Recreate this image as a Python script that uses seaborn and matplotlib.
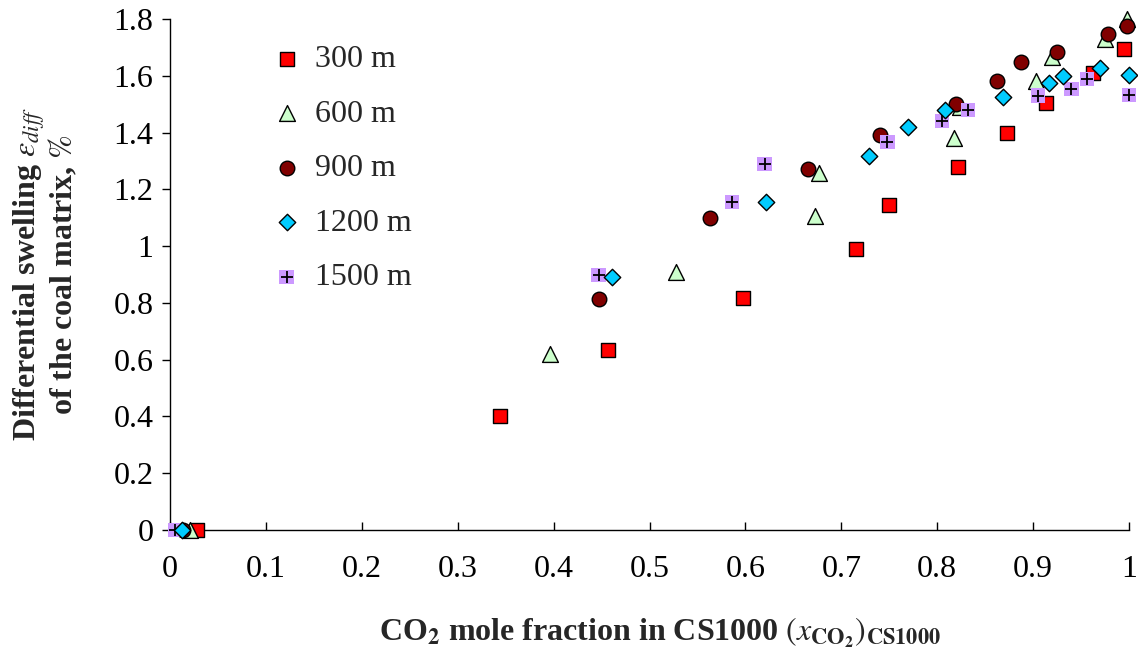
import matplotlib
matplotlib.use("Agg")
import matplotlib.pyplot as plt
import seaborn as sns
import pandas as pd
from matplotlib.legend_handler import HandlerTuple

# CO2 mole fraction vs differential swelling, one series per depth
x_300 = [0.028, 0.344, 0.457, 0.597, 0.715, 0.750, 0.822, 0.873, 0.913, 0.962, 0.995]
y_300 = [0.0, 0.40, 0.634, 0.817, 0.99, 1.145, 1.28, 1.40, 1.505, 1.61, 1.695]

x_600 = [0.021, 0.396, 0.528, 0.673, 0.677, 0.817, 0.824, 0.903, 0.920, 0.975, 0.998]
y_600 = [0.0, 0.62, 0.909, 1.106, 1.257, 1.38, 1.49, 1.58, 1.667, 1.73, 1.80]

x_900 = [0.014, 0.447, 0.563, 0.665, 0.740, 0.820, 0.862, 0.887, 0.925, 0.978, 0.998]
y_900 = [0.0, 0.814, 1.10, 1.272, 1.39, 1.50, 1.58, 1.648, 1.683, 1.747, 1.775]

x_1200 = [0.012, 0.461, 0.621, 0.729, 0.770, 0.808, 0.869, 0.917, 0.931, 0.970, 1.0]
y_1200 = [0.0, 0.892, 1.155, 1.317, 1.42, 1.48, 1.525, 1.574, 1.60, 1.627, 1.603]

x_1500 = [0.005, 0.447, 0.586, 0.620, 0.748, 0.805, 0.832, 0.905, 0.940, 0.956, 1.0]
y_1500 = [0.0, 0.898, 1.155, 1.29, 1.367, 1.44, 1.48, 1.53, 1.553, 1.589, 1.533]

depth_labels = ["300 m", "600 m", "900 m", "1200 m", "1500 m"]


def main():
    sns.set_style("ticks")
    plt.rcParams["font.family"] = ["Liberation Serif", "DejaVu Serif"]
    plt.rcParams["mathtext.fontset"] = "stix"

    fig = plt.figure(figsize=(11.38, 6.55), dpi=100)
    ax = fig.add_axes([0.1494, 0.1908, 0.8427, 0.7802])

    ec = dict(edgecolor="black", linewidth=1.0, clip_on=False)

    sns.scatterplot(x=x_300, y=y_300, ax=ax, marker="s", s=95,
                    color="#ff0000", zorder=3, **ec)
    sns.scatterplot(x=x_600, y=y_600, ax=ax, marker="^", s=130,
                    color="#ccffcc", zorder=4, **ec)
    sns.scatterplot(x=x_900, y=y_900, ax=ax, marker="o", s=110,
                    color="#800000", zorder=5, **ec)
    sns.scatterplot(x=x_1500, y=y_1500, ax=ax, marker="s", s=110,
                    color="#cc99ff", edgecolor="none", linewidth=0,
                    zorder=6, clip_on=False)
    sns.scatterplot(x=x_1500, y=y_1500, ax=ax, marker="+", s=75,
                    color="black", linewidth=1.3, zorder=7, clip_on=False)
    sns.scatterplot(x=x_1200, y=y_1200, ax=ax, marker="D", s=70,
                    color="#00ccff", zorder=8, **ec)

    colls = ax.collections
    handles = [colls[0], colls[1], colls[2], colls[5], (colls[3], colls[4])]
    ax.legend(handles, depth_labels, loc="upper left",
              bbox_to_anchor=(0.105, 0.95), frameon=False, fontsize=23,
              labelspacing=0.79, handlelength=1.0, handletextpad=0.4,
              borderaxespad=0, borderpad=0,
              handler_map={tuple: HandlerTuple(ndivide=1)}, scatterpoints=1)

    ax.set_xlim(0, 1)
    ax.set_ylim(0, 1.8)
    ax.set_xticks([0, 0.1, 0.2, 0.3, 0.4, 0.5, 0.6, 0.7, 0.8, 0.9, 1])
    ax.set_xticklabels(["0", "0.1", "0.2", "0.3", "0.4", "0.5", "0.6",
                        "0.7", "0.8", "0.9", "1"])
    ax.set_yticks([0, 0.2, 0.4, 0.6, 0.8, 1.0, 1.2, 1.4, 1.6, 1.8])
    ax.set_yticklabels(["0", "0.2", "0.4", "0.6", "0.8", "1", "1.2",
                        "1.4", "1.6", "1.8"])
    ax.tick_params(axis="x", direction="in", length=6, width=1,
                   labelsize=23, pad=18, colors="black")
    ax.tick_params(axis="y", direction="out", length=6, width=1,
                   labelsize=23, pad=6, colors="black")
    for side in ["left", "bottom"]:
        ax.spines[side].set_color("black")
        ax.spines[side].set_linewidth(1)
    sns.despine(ax=ax)

    ax.set_xlabel(r"CO$_\mathbf{2}$ mole fraction in CS1000 "
                  r"$(x_{\mathbf{CO_2}})_{\mathbf{CS1000}}$",
                  fontsize=23, fontweight="bold")
    ax.xaxis.set_label_coords(0.511, -0.168)
    ax.set_ylabel("Differential swelling $\\varepsilon_{diff}$\n"
                  "of the coal matrix, $\\mathit{\\%}$",
                  fontsize=23, fontweight="bold", linespacing=1.0)
    ax.yaxis.set_label_coords(-0.095, 0.5)

    fig.savefig("out.png", dpi=100)
    plt.close(fig)


if __name__ == "__main__":
    main()
